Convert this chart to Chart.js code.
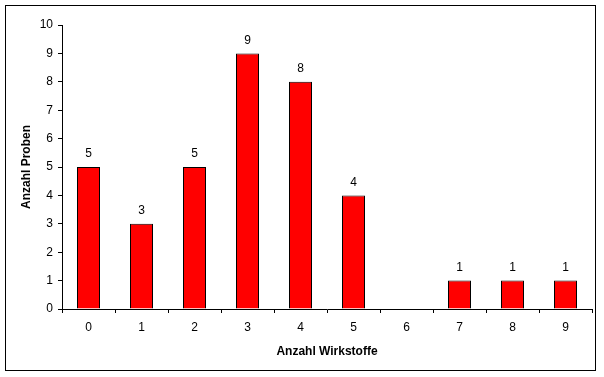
<!DOCTYPE html>
<html>
<head>
<meta charset="utf-8">
<script src="https://cdn.jsdelivr.net/npm/chart.js@4"></script>
<style>
  body { margin: 0; background: #fff; }
  canvas { display: block; }
</style>
</head>
<body>
<canvas id="chart" width="604" height="377"></canvas>
<script>
// Chart data
var categories = ["0", "1", "2", "3", "4", "5", "6", "7", "8", "9"];
var proben = [5, 3, 5, 9, 8, 4, 0, 1, 1, 1];
var yTicks = [0, 1, 2, 3, 4, 5, 6, 7, 8, 9, 10];

var fontFamily = 'Arial, "Liberation Sans", sans-serif';

// Frame around the whole picture
var framePlugin = {
    id: 'frame',
    beforeDraw: function(chart) {
        var ctx = chart.ctx;
        ctx.save();
        ctx.fillStyle = '#fff';
        ctx.fillRect(0, 0, chart.width, chart.height);
        ctx.strokeStyle = '#000';
        ctx.lineWidth = 1;
        ctx.strokeRect(5.5, 5.5, 590, 365);
        ctx.restore();
    }
};

// Value labels above the bars
var valueLabels = {
    id: 'valueLabels',
    afterDatasetsDraw: function(chart) {
        var ctx = chart.ctx;
        var meta = chart.getDatasetMeta(0);
        ctx.save();
        ctx.font = '12px ' + fontFamily;
        ctx.fillStyle = '#000';
        ctx.textAlign = 'center';
        ctx.textBaseline = 'middle';
        meta.data.forEach(function(bar, i) {
            if (proben[i] === 0) return;
            ctx.fillText(String(proben[i]), bar.x, bar.y - 13);
        });
        ctx.restore();
    }
};

new Chart(document.getElementById('chart'), {
    type: 'bar',
    data: {
        labels: categories,
        datasets: [{
            data: proben,
            backgroundColor: '#ff0000',
            borderColor: '#000000',
            borderWidth: 1,
            categoryPercentage: 1,
            barPercentage: 0.434
        }]
    },
    options: {
        responsive: false,
        animation: false,
        layout: { padding: { left: 0, top: 25, right: 12, bottom: 0 } },
        plugins: {
            legend: { display: false },
            tooltip: { enabled: false }
        },
        scales: {
            x: {
                grid: { display: true, drawOnChartArea: false, color: '#000', tickLength: 4, offset: true },
                border: { color: '#000', width: 1 },
                ticks: { color: '#000', font: { family: fontFamily, size: 12 }, padding: 7, maxRotation: 0 },
                title: {
                    display: true,
                    text: 'Anzahl Wirkstoffe',
                    color: '#000',
                    font: { family: fontFamily, size: 12, weight: 'bold' },
                    padding: { top: 0, bottom: 18 }
                },
                afterFit: function(scale) { scale.height = 68; }
            },
            y: {
                min: 0,
                max: 10,
                afterBuildTicks: function(scale) {
                    scale.ticks = yTicks.map(function(v) { return { value: v }; });
                },
                grid: { display: true, drawOnChartArea: false, color: '#000', tickLength: 4 },
                border: { color: '#000', width: 1 },
                ticks: { color: '#000', font: { family: fontFamily, size: 12 }, padding: 5 },
                title: {
                    display: true,
                    text: 'Anzahl Proben',
                    color: '#000',
                    font: { family: fontFamily, size: 12, weight: 'bold' },
                    padding: { top: 19, bottom: 0 }
                },
                afterFit: function(scale) { scale.width = 62; }
            }
        }
    },
    plugins: [framePlugin, valueLabels]
});
</script>
</body>
</html>
